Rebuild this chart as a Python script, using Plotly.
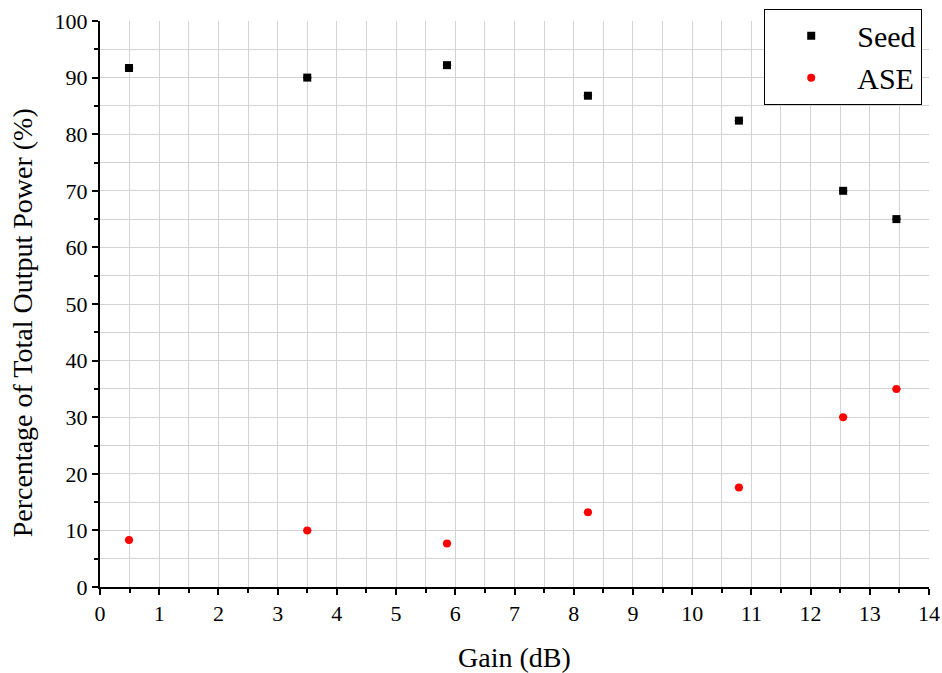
import plotly.graph_objects as go

# Gain (dB) at each measurement
gain_db = [0.49, 3.50, 5.86, 8.24, 10.79, 12.55, 13.45]
# Share of total output power (%)
seed_pct = [91.7, 90.0, 92.2, 86.8, 82.4, 70.0, 65.0]
ase_pct = [8.3, 10.0, 7.7, 13.2, 17.6, 30.0, 35.0]

x_ticks = list(range(0, 15))
y_ticks = list(range(0, 101, 10))

FONT = "Liberation Serif, Times New Roman, serif"

fig = go.Figure()
fig.add_trace(go.Scatter(
    x=gain_db, y=seed_pct, mode="markers", name="Seed",
    marker=dict(symbol="square", size=8, color="black"),
    error_x=dict(type="constant", value=0.07, color="black", thickness=1.5, width=0),
))
fig.add_trace(go.Scatter(
    x=gain_db, y=ase_pct, mode="markers", name="ASE",
    marker=dict(symbol="circle", size=8, color="#ff0000"),
    error_x=dict(type="constant", value=0.07, color="#ff0000", thickness=1.5, width=0),
))

axis_common = dict(
    showline=True, linecolor="black", linewidth=2,
    ticks="outside", ticklen=6, tickwidth=2, tickcolor="black",
    showgrid=True, gridcolor="#d3d3d3", gridwidth=1.3,
    zeroline=False, mirror=False, automargin=False,
    tickfont=dict(family=FONT, size=22, color="black"),
)

fig.update_xaxes(
    range=[0, 14], tickvals=x_ticks,
    title=dict(text="Gain (dB)", font=dict(family=FONT, size=28, color="black"), standoff=22),
    minor=dict(dtick=0.5, ticks="outside", ticklen=4, tickwidth=1.5, tickcolor="black",
               showgrid=True, gridcolor="#d3d3d3", gridwidth=1.3),
    **axis_common,
)
fig.update_yaxes(
    range=[0, 100], tickvals=y_ticks,
    minor=dict(dtick=5, ticks="outside", ticklen=4, tickwidth=1.5, tickcolor="black",
               showgrid=True, gridcolor="#d3d3d3", gridwidth=1.3),
    **axis_common,
)

# y-axis title placed as a rotated annotation
fig.add_annotation(
    text="Percentage of Total Output Power (%)",
    xref="paper", yref="paper", x=-0.094, y=0.466,
    xanchor="center", yanchor="middle", textangle=-90, showarrow=False,
    font=dict(family=FONT, size=28, color="black"),
)

fig.update_layout(
    width=942, height=673,
    margin=dict(l=100, r=13, t=21, b=86, autoexpand=False),
    paper_bgcolor="white", plot_bgcolor="white",
    font=dict(family=FONT, color="black"),
    showlegend=True,
    legend=dict(
        xref="container", yref="container",
        x=0.979, y=0.987, xanchor="right", yanchor="top",
        bgcolor="white", bordercolor="black", borderwidth=1,
        font=dict(family=FONT, size=30, color="black"),
        itemsizing="trace", itemwidth=82, tracegroupgap=0,
    ),
)

fig.write_html("out.html")
